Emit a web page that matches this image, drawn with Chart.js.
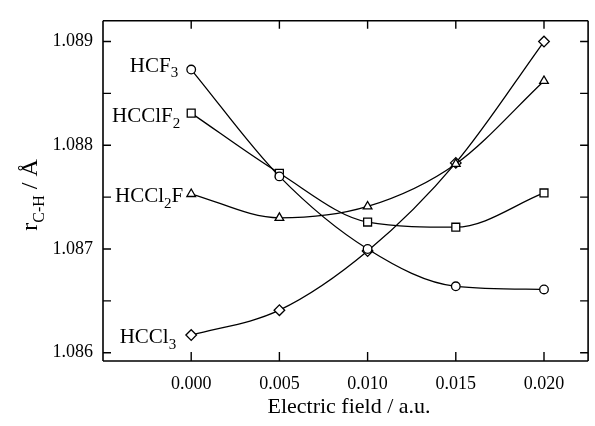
<!DOCTYPE html>
<html>
<head>
<meta charset="utf-8">
<script src="https://cdn.jsdelivr.net/npm/chart.js@4.4.0/dist/chart.umd.min.js"></script>
<style>
html,body{margin:0;padding:0;background:#fff;}
canvas{display:block;}
</style>
</head>
<body>
<canvas id="c" width="595" height="426"></canvas>
<script>
// ---- data ----
const fields = [0.000, 0.005, 0.010, 0.015, 0.020];
const hcf3   = [1.08873, 1.08770, 1.08700, 1.08664, 1.08661];
const hcclf2 = [1.08831, 1.08773, 1.08726, 1.08721, 1.08754];
const hccl2f = [1.08753, 1.08730, 1.08741, 1.08782, 1.08862];
const hccl3  = [1.08617, 1.08641, 1.08698, 1.08783, 1.08900];
const xTicks = [0.000, 0.005, 0.010, 0.015, 0.020];
const yTicks = [1.086, 1.0865, 1.087, 1.0875, 1.088, 1.0885, 1.089];
const yLabelTicks = [1.086, 1.087, 1.088, 1.089];
// series labels: [main, sub, main2]
const seriesNames = [
  ['HCF', '3', ''],
  ['HCClF', '2', ''],
  ['HCCl', '2', 'F'],
  ['HCCl', '3', '']
];

const FONT = "'Liberation Serif','Times New Roman',serif";
const styles = ['circle', 'rect', 'triangle', 'rectRot'];
const radii = [4.3, 5.6, 5, 5.3];
// label offsets relative to the first point (text annotation placement)
const labelOffsets = [[-13, 2], [-11, 9], [-8, 8], [-15, 8]];

const seriesData = [hcf3, hcclf2, hccl2f, hccl3];
const datasets = seriesData.map((arr, i) => ({
  label: seriesNames[i].join(''),
  data: fields.map((f, j) => ({x: f, y: arr[j]})),
  showLine: true,
  cubicInterpolationMode: 'monotone',
  borderColor: '#000',
  borderWidth: 1.3,
  pointStyle: styles[i],
  pointRadius: radii[i],
  pointBackgroundColor: '#fff',
  pointBorderColor: '#000',
  pointBorderWidth: 1.3,
  fill: false
}));

function drawSubText(ctx, parts, xRight, baseline, size) {
  const subSize = Math.round(size * 0.72);
  ctx.font = size + 'px ' + FONT;
  const w1 = ctx.measureText(parts[0]).width;
  const w3 = ctx.measureText(parts[2]).width;
  ctx.font = subSize + 'px ' + FONT;
  const w2 = ctx.measureText(parts[1]).width;
  let x = xRight - (w1 + w2 + w3);
  ctx.textAlign = 'left';
  ctx.textBaseline = 'alphabetic';
  ctx.font = size + 'px ' + FONT;
  ctx.fillText(parts[0], x, baseline); x += w1;
  ctx.font = subSize + 'px ' + FONT;
  ctx.fillText(parts[1], x, baseline + size * 0.28); x += w2;
  ctx.font = size + 'px ' + FONT;
  ctx.fillText(parts[2], x, baseline);
}

const framePlugin = {
  id: 'frame',
  afterDraw(chart) {
    const ctx = chart.ctx;
    const a = chart.chartArea;
    const xs = chart.scales.x, ys = chart.scales.y;
    ctx.save();
    ctx.strokeStyle = '#000';
    ctx.lineWidth = 1.6;
    ctx.beginPath();
    ctx.moveTo(a.left, a.top); ctx.lineTo(a.right, a.top);
    ctx.moveTo(a.left, a.bottom); ctx.lineTo(a.right, a.bottom);
    ctx.moveTo(a.left, a.top); ctx.lineTo(a.left, a.bottom);
    ctx.moveTo(a.right, a.top); ctx.lineTo(a.right, a.bottom);
    ctx.stroke();
    ctx.lineWidth = 1.4;
    ctx.beginPath();
    yTicks.forEach(v => {
      const py = ys.getPixelForValue(v);
      ctx.moveTo(a.left, py); ctx.lineTo(a.left + 8, py);
      ctx.moveTo(a.right, py); ctx.lineTo(a.right - 8, py);
    });
    xTicks.forEach(v => {
      const px = xs.getPixelForValue(v);
      ctx.moveTo(px, a.bottom); ctx.lineTo(px, a.bottom - 9);
      ctx.moveTo(px, a.top); ctx.lineTo(px, a.top + 8);
    });
    ctx.stroke();

    // series labels
    ctx.fillStyle = '#000';
    seriesData.forEach((arr, i) => {
      const px = xs.getPixelForValue(fields[0]);
      const py = ys.getPixelForValue(arr[0]);
      drawSubText(ctx, seriesNames[i], px + labelOffsets[i][0], py + labelOffsets[i][1], 21);
    });

    // y axis title
    ctx.save();
    ctx.translate(37, (a.top + a.bottom) / 2 + 4);
    ctx.rotate(-Math.PI / 2);
    const size = 24, sub = 16;
    ctx.font = size + 'px ' + FONT;
    const t1 = 'r', t3 = ' / Å', t2 = 'C-H';
    const w1 = ctx.measureText(t1).width, w3 = ctx.measureText(t3).width;
    ctx.font = sub + 'px ' + FONT;
    const w2 = ctx.measureText(t2).width;
    let x = -(w1 + w2 + w3) / 2;
    ctx.textBaseline = 'alphabetic';
    ctx.textAlign = 'left';
    ctx.font = size + 'px ' + FONT;
    ctx.fillText(t1, x, 0); x += w1;
    ctx.font = sub + 'px ' + FONT;
    ctx.fillText(t2, x, 7); x += w2;
    ctx.font = size + 'px ' + FONT;
    ctx.fillText(t3, x, 0);
    ctx.restore();

    // x axis title
    ctx.font = '22px ' + FONT;
    ctx.textAlign = 'center';
    ctx.textBaseline = 'middle';
    ctx.fillText('Electric field / a.u.', (a.left + chart.width) / 2, 407);
    ctx.restore();
  }
};

new Chart(document.getElementById('c'), {
  type: 'scatter',
  data: { datasets },
  options: {
    responsive: false,
    animation: false,
    devicePixelRatio: 1,
    layout: { padding: { top: 14, right: -6, left: 0, bottom: 0 } },
    plugins: { legend: { display: false }, tooltip: { enabled: false } },
    scales: {
      x: {
        type: 'linear',
        min: -0.005, max: 0.0225,
        afterBuildTicks: s => { s.ticks = xTicks.map(v => ({value: v})); },
        afterFit: s => { s.height = 65; },
        grid: { display: false, drawTicks: false },
        border: { display: false },
        ticks: {
          padding: 12,
          color: '#000',
          font: { family: FONT, size: 18 },
          callback: v => Number(v).toFixed(3),
          maxRotation: 0, autoSkip: false
        }
      },
      y: {
        type: 'linear',
        min: 1.08592, max: 1.0892,
        afterBuildTicks: s => { s.ticks = yTicks.map(v => ({value: v})); },
        afterFit: s => { s.width = 103; },
        grid: { display: false, drawTicks: false },
        border: { display: false },
        ticks: {
          padding: 10,
          color: '#000',
          font: { family: FONT, size: 18 },
          callback: v => yLabelTicks.some(t => Math.abs(t - v) < 1e-7) ? Number(v).toFixed(3) : '',
          autoSkip: false
        }
      }
    }
  },
  plugins: [framePlugin]
});
</script>
</body>
</html>
